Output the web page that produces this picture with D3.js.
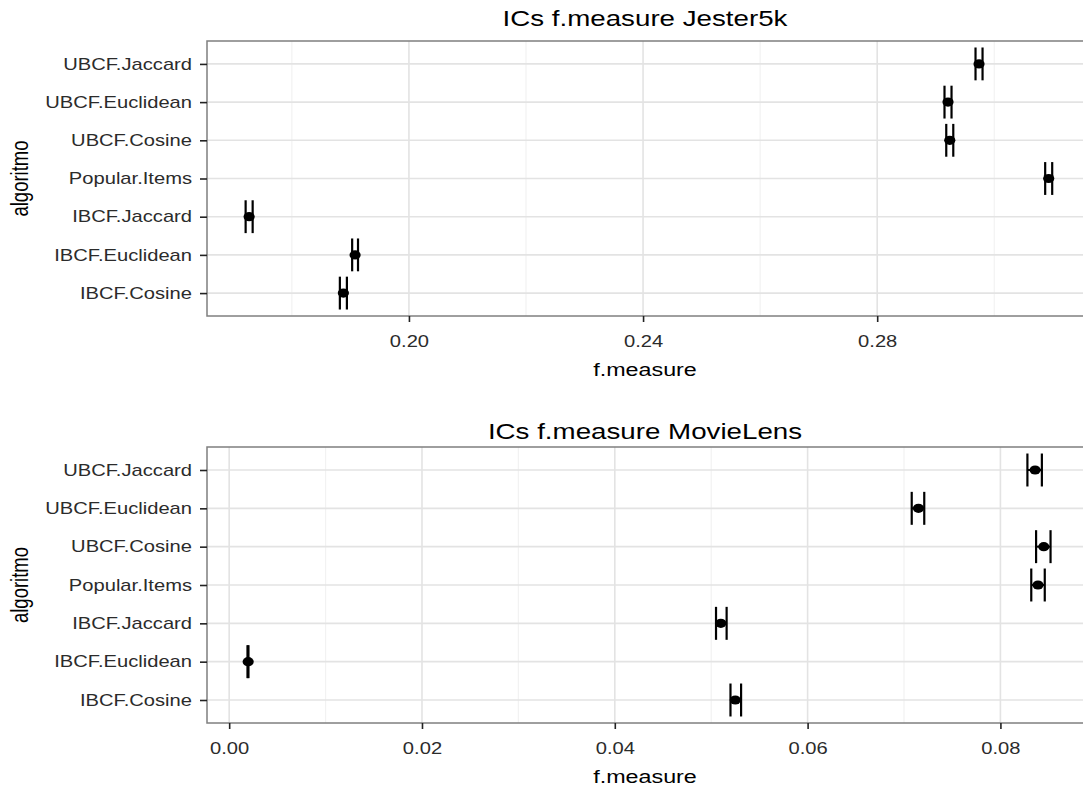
<!DOCTYPE html>
<html>
<head>
  <meta charset="utf-8">
  <title>ICs f.measure</title>
  <style>
    body { margin: 0; background: #fff; }
    text { font-family: "Liberation Sans", Arial, sans-serif; }
  </style>
  <script src="https://cdn.jsdelivr.net/npm/d3@7"></script>
</head>
<body>
<script>
// categories, bottom to top
var categories = ["IBCF.Cosine", "IBCF.Euclidean", "IBCF.Jaccard", "Popular.Items",
                  "UBCF.Cosine", "UBCF.Euclidean", "UBCF.Jaccard"];

// Jester5k: mean f.measure and interval bounds
var jesterMean  = [0.1888, 0.1908, 0.1727, 0.3093, 0.2924, 0.2921, 0.2974];
var jesterLower = [0.1882, 0.1903, 0.1721, 0.3087, 0.2918, 0.2915, 0.2968];
var jesterUpper = [0.1894, 0.1913, 0.1733, 0.3099, 0.2930, 0.2927, 0.2980];
var jesterTicks = [0.20, 0.24, 0.28];
var jesterMinor = [0.18, 0.22, 0.26, 0.30];

// MovieLens: mean f.measure and interval bounds
var movieMean  = [0.0525, 0.00197, 0.0510, 0.0839, 0.0845, 0.0715, 0.0836];
var movieLower = [0.0520, 0.0019, 0.0505, 0.0832, 0.0837, 0.0708, 0.0828];
var movieUpper = [0.0531, 0.0020, 0.0516, 0.0846, 0.0852, 0.0721, 0.0843];
var movieTicks = [0.00, 0.02, 0.04, 0.06, 0.08];
var movieMinor = [0.01, 0.03, 0.05, 0.07];

// the reference is stretched sideways, so text is too
var sx = 1.26;

var svg = d3.select("body").append("svg")
    .attr("width", 1083)
    .attr("height", 787);

function panel(opt) {
  var data = categories.map(function(c, i) {
    return { cat: c, mean: opt.mean[i], lo: opt.lower[i], hi: opt.upper[i] };
  });

  // set the ranges
  var x = d3.scaleLinear().domain(opt.domain).range([207, 1092]);
  var y = d3.scalePoint().domain(categories.slice().reverse())
      .range([opt.top, opt.bottom]).padding(0.6);
  var step = y.step();

  var g = svg.append("g");

  // grid
  g.selectAll(".minor").data(opt.minor).enter().append("line")
      .attr("x1", function(d) { return x(d); }).attr("x2", function(d) { return x(d); })
      .attr("y1", opt.top).attr("y2", opt.bottom)
      .attr("stroke", "#f2f2f2").attr("stroke-width", 1.2);
  g.selectAll(".major").data(opt.ticks).enter().append("line")
      .attr("x1", function(d) { return x(d); }).attr("x2", function(d) { return x(d); })
      .attr("y1", opt.top).attr("y2", opt.bottom)
      .attr("stroke", "#e3e3e3").attr("stroke-width", 1.6);
  g.selectAll(".hgrid").data(categories).enter().append("line")
      .attr("x1", 207).attr("x2", 1092)
      .attr("y1", function(d) { return y(d); }).attr("y2", function(d) { return y(d); })
      .attr("stroke", "#e3e3e3").attr("stroke-width", 1.6);

  // error bars
  var bars = g.selectAll(".bar").data(data).enter().append("g");
  bars.append("line")
      .attr("x1", function(d) { return x(d.lo); }).attr("x2", function(d) { return x(d.hi); })
      .attr("y1", function(d) { return y(d.cat); }).attr("y2", function(d) { return y(d.cat); })
      .attr("stroke", "#000").attr("stroke-width", 2);
  [["lo"], ["hi"]].forEach(function(k) {
    bars.append("line")
        .attr("x1", function(d) { return x(d[k[0]]); }).attr("x2", function(d) { return x(d[k[0]]); })
        .attr("y1", function(d) { return y(d.cat) - step * 0.43; })
        .attr("y2", function(d) { return y(d.cat) + step * 0.43; })
        .attr("stroke", "#000").attr("stroke-width", 2.2);
  });
  bars.append("ellipse")
      .attr("cx", function(d) { return x(d.mean); })
      .attr("cy", function(d) { return y(d.cat); })
      .attr("rx", 5.6).attr("ry", 4.6)
      .attr("fill", "#000");

  // panel border
  g.append("rect")
      .attr("x", 207).attr("y", opt.top)
      .attr("width", 1092 - 207).attr("height", opt.bottom - opt.top)
      .attr("fill", "none").attr("stroke", "#7f7f7f").attr("stroke-width", 1.5);

  // add the x Axis
  var xa = g.append("g")
      .attr("transform", "translate(0," + opt.bottom + ")")
      .call(d3.axisBottom(x).tickValues(opt.ticks).tickFormat(d3.format(".2f"))
          .tickSize(6).tickPadding(14));
  xa.select(".domain").remove();
  xa.selectAll("line").attr("stroke", "#222").attr("stroke-width", 1.6);
  xa.selectAll("text")
      .style("font-size", "16px").attr("fill", "#2b2b2b")
      .attr("transform", "scale(" + sx + ",1)")
      .attr("x", 0);

  // add the y Axis
  var ya = g.append("g")
      .attr("transform", "translate(207,0)")
      .call(d3.axisLeft(y).tickSize(7).tickPadding(6));
  ya.select(".domain").remove();
  ya.selectAll("line").attr("stroke", "#222").attr("stroke-width", 1.6);
  ya.selectAll("text")
      .style("font-size", "16px").attr("fill", "#2b2b2b")
      .attr("x", -15 / sx)
      .attr("transform", "scale(" + sx + ",1)");

  // titles
  svg.append("text")
      .attr("transform", "translate(645," + opt.titleY + ") scale(" + sx + ",1)")
      .attr("text-anchor", "middle")
      .style("font-size", "22px")
      .text(opt.title);
  svg.append("text")
      .attr("transform", "translate(645," + (opt.bottom + 60) + ") scale(" + sx + ",1)")
      .attr("text-anchor", "middle")
      .style("font-size", "18.5px")
      .text("f.measure");
  svg.append("text")
      .attr("transform", "translate(28," + ((opt.top + opt.bottom) / 2) + ") scale(" + sx + ",1) rotate(-90)")
      .attr("text-anchor", "middle")
      .style("font-size", "18.5px")
      .text("algoritmo");
}

panel({ title: "ICs f.measure Jester5k", titleY: 26, top: 41, bottom: 316,
        domain: [0.1655, 0.3167], ticks: jesterTicks, minor: jesterMinor,
        mean: jesterMean, lower: jesterLower, upper: jesterUpper });

panel({ title: "ICs f.measure MovieLens", titleY: 439, top: 447, bottom: 723,
        domain: [-0.0023, 0.0895], ticks: movieTicks, minor: movieMinor,
        mean: movieMean, lower: movieLower, upper: movieUpper });
</script>
</body>
</html>
